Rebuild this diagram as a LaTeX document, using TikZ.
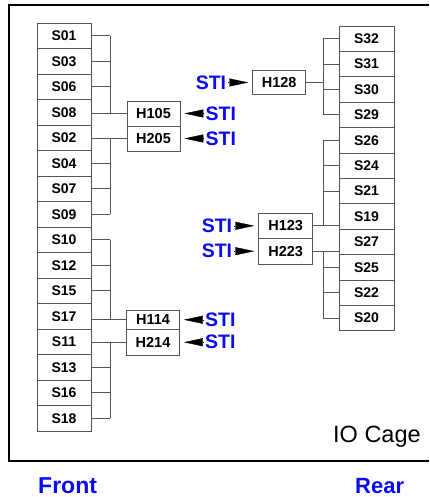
\documentclass[tikz,border=0pt]{standalone}
\usepackage{fontspec}
\setmainfont{Liberation Sans}
\usetikzlibrary{arrows.meta,positioning,calc}
\definecolor{stiblue}{RGB}{10,10,245}
\definecolor{wiregray}{RGB}{85,85,85}

\begin{document}
\begin{tikzpicture}[x=1pt,y=1pt,
    slot/.style={draw=wiregray,line width=0.8pt,minimum height=25.5pt,inner sep=0pt,
      font=\bfseries\fontsize{14}{14}\selectfont},
    hub/.style={draw=wiregray,line width=0.8pt,minimum width=53pt,inner sep=0pt,
      font=\bfseries\fontsize{14.5}{14.5}\selectfont},
    wire/.style={draw=wiregray,line width=0.8pt},
    sti/.style={text=stiblue,inner sep=0pt,font=\bfseries\fontsize{19.5}{19.5}\selectfont},
    feed/.style={-{Triangle[length=19pt,width=8pt]},shorten >=4pt,shorten <=2pt}]
    \useasboundingbox (0,0) rectangle (429,497);
    % cage frame
    \draw[line width=2pt] (429,492) -- (9,492) -- (9,36) -- (429,36);
    \node[anchor=base west,inner sep=0pt,font=\fontsize{23.5}{23.5}\selectfont] (cage) at (333,54.5) {IO Cage};
    % front slots
    \foreach \s [count=\i] in {S01,S03,S06,S08,S02,S04,S07,S09,S10,S12,S15,S17,S11,S13,S16,S18}
      \node[slot,minimum width=54pt] (\s) at (64,486.75-\i*25.5) {\s};
    % rear slots
    \foreach \s [count=\i] in {S32,S31,S30,S29,S26,S24,S21,S19,S27,S25,S22,S20}
      \node[slot,minimum width=55pt,minimum height=25.4pt] (\s) at (366.5,483.7-\i*25.4) {\s};
    % hubs
    \node[hub,minimum height=25pt] (H105) at (153.5,383.5) {H105};
    \node[hub,minimum height=25pt] (H205) at (153.5,358.5) {H205};
    \node[hub,minimum height=19.5pt] (H114) at (153,177.25) {H114};
    \node[hub,minimum height=25.5pt] (H214) at (153,154.75) {H214};
    \node[hub,minimum height=24.5pt] (H128) at (279.2,414.5) {H128};
    \node[hub,minimum height=25pt,minimum width=54pt] (H123) at (285.7,271.2) {H123};
    \node[hub,minimum height=25.5pt,minimum width=54pt] (H223) at (285.7,245.8) {H223};
    % buses
    \coordinate (busL) at (110,0);
    \coordinate (busR) at (323,0);
    \foreach \s in {S01,S03,S06,S04,S07,S09,S10,S12,S15,S13,S16,S18}
      \draw[wire] (\s.east) -- (\s.east -| busL);
    \foreach \h/\s in {H105/S08,H205/S02,H114/S17,H214/S11}
      \draw[wire] (\h.west) -- (\h.west -| \s.east);
    \draw[wire] (S01.east -| busL) -- (H105.west -| busL);
    \draw[wire] (H205.west -| busL) -- (S09.east -| busL);
    \draw[wire] (S10.east -| busL) -- (H114.west -| busL);
    \draw[wire] (H214.west -| busL) -- (S18.east -| busL);
    \foreach \s in {S32,S31,S30,S29,S26,S24,S21,S25,S22,S20}
      \draw[wire] (\s.west) -- (\s.west -| busR);
    \draw[wire] (H128.east) -- (H128.east -| busR);
    \foreach \h/\s in {H123/S19,H223/S27}
      \draw[wire] (\h.east) -- (\h.east -| \s.west);
    \draw[wire] (S32.west -| busR) -- (S29.west -| busR);
    \draw[wire] (S26.west -| busR) -- (H123.east -| busR);
    \draw[wire] (H223.east -| busR) -- (S20.west -| busR);
    % STI feeds
    \foreach \h in {H105,H205,H114,H214} {
      \node[sti,anchor=west] (sti\h) at ([xshift=25pt]\h.east) {STI};
      \draw[feed] (sti\h.west) -- (\h.east);
    }
    \foreach \h in {H128,H123,H223} {
      \node[sti,anchor=east] (sti\h) at ([xshift=-26pt]\h.west) {STI};
      \draw[feed] (sti\h.east) -- (\h.west);
    }
    % sides
    \node[anchor=base west,inner sep=0pt,text=stiblue,font=\bfseries\fontsize{23}{23}\selectfont] (front) at (38,4) {Front};
    \node[anchor=base west,inner sep=0pt,text=stiblue,font=\bfseries\fontsize{22}{22}\selectfont] (rear) at (355,3.5) {Rear};
  \end{tikzpicture}
\end{document}
